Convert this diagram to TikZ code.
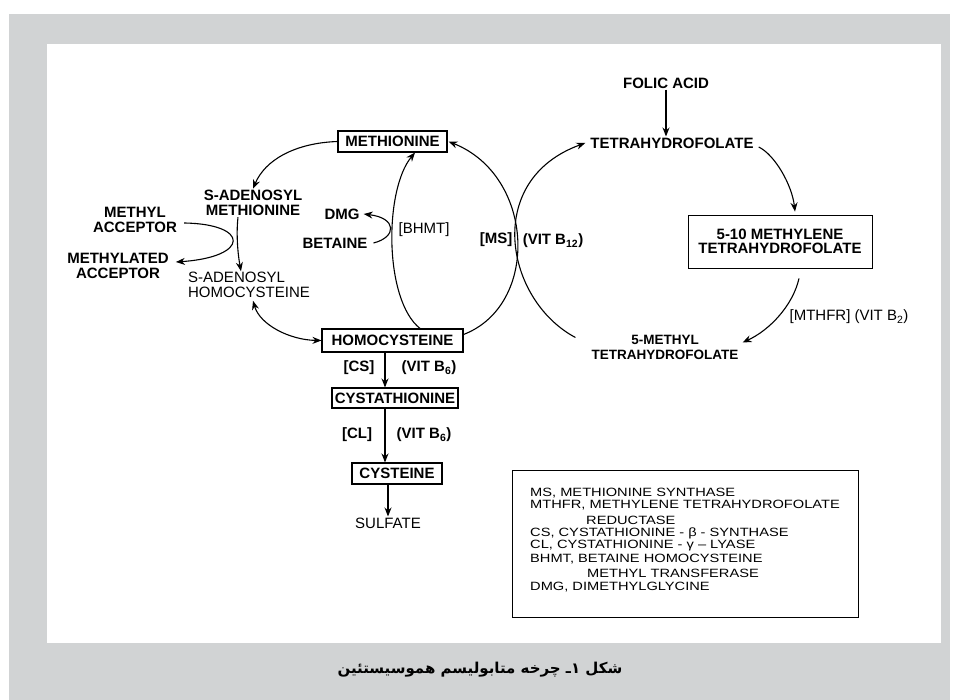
\documentclass[tikz,border=0pt]{standalone}
\usepackage{fontspec}
\setmainfont{Liberation Sans}
\newfontfamily\legfont[FakeStretch=1.22]{Liberation Sans}
\newfontfamily\arabicfont[Script=Arabic]{DejaVu Sans}
\TeXXeTstate=1
\usetikzlibrary{arrows.meta,calc}
\definecolor{panelgray}{RGB}{209,211,212}
\begin{document}
\begin{tikzpicture}[x=1pt,y=-1pt,
  lbl/.style={font=\bfseries\fontsize{15}{14.5}\selectfont, inner sep=1pt, align=center},
  rlbl/.style={font=\fontsize{15}{14.5}\selectfont, inner sep=1pt, align=center},
  cbox/.style={lbl, draw, line width=1.1pt, inner sep=0pt},
  arr/.style={line width=1.1pt, -{Stealth[length=9pt,width=7pt]}},
  darr/.style={line width=1.1pt, {Stealth[length=9pt,width=7pt]}-{Stealth[length=9pt,width=7pt]}},
  leg/.style={font=\legfont\fontsize{12}{12}\selectfont, anchor=west, inner sep=0pt}]
\useasboundingbox (0,0) rectangle (958,700);
\fill[white] (0,0) rectangle (958,700);
\fill[panelgray] (9,14) rectangle (950,700);
\fill[white] (47,44) rectangle (941,643);

% boxes
\node[cbox, minimum width=109pt, minimum height=21pt] (meth) at (392.5,141.5) {METHIONINE};
\node[cbox, minimum width=141pt, minimum height=23pt] (hcy) at (392.5,340.5) {HOMOCYSTEINE};
\node[cbox, minimum width=126pt, minimum height=20pt] (cysta) at (395,398) {CYSTATHIONINE};
\node[cbox, minimum width=90pt, minimum height=21pt] (cys) at (397,473.5) {CYSTEINE};
\node[rlbl] (sulf) at (388,523) {SULFATE};

% left labels
\node[lbl, font=\bfseries\fontsize{15}{15.5}\selectfont] (sam) at (253,203) {S-ADENOSYL\\METHIONINE};
\node[rlbl, align=left] (sah) at (249,285) {S-ADENOSYL\\HOMOCYSTEINE};
\node[lbl] (macc) at (135,220) {METHYL\\ACCEPTOR};
\node[lbl] (mdacc) at (118,266) {METHYLATED\\ACCEPTOR};
\node[lbl] (dmg) at (342,214) {DMG};
\node[lbl] (bet) at (335,243) {BETAINE};
\node[rlbl] (bhmt) at (424,230) {[BHMT]};
\node[lbl] (ms) at (496,240) {[MS]};
\node[lbl] (b12) at (553,241) {(VIT B\textsubscript{12})};

% folate cycle
\node[lbl] (folic) at (666,83) {FOLIC ACID};
\node[lbl] (thf) at (672,143) {TETRAHYDROFOLATE};
\node[lbl, draw, line width=0.8pt, minimum width=184pt, minimum height=53pt, inner sep=0pt] (mlthf) at (780,241.5) {5-10 METHYLENE\\TETRAHYDROFOLATE};
\node[rlbl] (mthfr) at (849,317) {[MTHFR] (VIT B\textsubscript{2})};
\node[lbl, font=\bfseries\fontsize{13.5}{15}\selectfont] (mthf) at (665,347.5) {5-METHYL\\TETRAHYDROFOLATE};

% transsulfuration labels
\node[lbl] (cs) at (359,368) {[CS]};
\node[lbl] (b6a) at (429,368) {(VIT B\textsubscript{6})};
\node[lbl] (cl) at (357,435) {[CL]};
\node[lbl] (b6b) at (424,435) {(VIT B\textsubscript{6})};

% connectors
\draw[arr] (meth.west) .. controls (295,143) and (265,160) .. (sam.north);
\draw[arr] ($(sam.south)+(-15,0)$) .. controls (236,235) and (238,255) .. ($(sah.north)+(-8,0)$);
\draw[arr] ($(macc.east)+(6,3)$) .. controls (250,224) and (250,257) .. ($(mdacc.east)+(6,-4)$);
\draw[darr] ($(sah.south)+(4,2)$) .. controls (260,325) and (290,340) .. (hcy.west);
\draw[arr] ($(hcy.north)+(27.5,0)$) .. controls (384,300) and (384,190) .. ($(meth.south)+(22.5,0)$);
\draw[arr] ($(bet.east)+(5,0)$) .. controls (397,237) and (397,218) .. ($(dmg.east)+(3,0)$);
\draw[arr] ($(hcy.east)+(0,-6)$) .. controls (540,305) and (535,176) .. ($(meth.east)+(1,0)$);
\draw[arr] ($(mthf.west)+(-15,-10)$) .. controls (505,300) and (483,180) .. ($(thf.west)+(-4,0)$);
\draw[arr] (folic.south) -- (folic.south |- thf.north);
\draw[arr] ($(thf.east)+(4,4)$) .. controls (775,155) and (792,185) .. ($(mlthf.north)+(15,-3)$);
\draw[arr] ($(mlthf.south)+(19,10)$) .. controls (793,305) and (770,330) .. ($(mthf.east)+(3,-5)$);
\draw[arr] ($(hcy.south)+(-7.5,0)$) -- ($(cysta.north)+(-10,0)$);
\draw[arr] ($(cysta.south)+(-10,0)$) -- ($(cys.north)+(-12,0)$);
\draw[arr] ($(cys.south)+(-9,0)$) -- (sulf.north);

% legend
\node[draw, line width=1pt, minimum width=346pt, minimum height=147pt, inner sep=0pt] (legbox) at (685,543.5) {};
\node[leg] (l1) at (530,493) {MS, METHIONINE SYNTHASE};
\node[leg] (l2) at (530,505) {MTHFR, METHYLENE TETRAHYDROFOLATE};
\node[leg] (l3) at (586,520) {REDUCTASE};
\node[leg] (l4) at (530,533) {CS, CYSTATHIONINE - β - SYNTHASE};
\node[leg] (l5) at (530,546) {CL, CYSTATHIONINE - γ – LYASE};
\node[leg] (l6) at (530,559.5) {BHMT, BETAINE HOMOCYSTEINE};
\node[leg] (l7) at (587,573) {METHYL TRANSFERASE};
\node[leg] (l8) at (530,587) {DMG, DIMETHYLGLYCINE};

% caption
\node[font=\arabicfont\bfseries\fontsize{15}{18}\selectfont, inner sep=0pt] (cap) at (480,670) {\beginR شکل ۱ـ چرخه متابولیسم هموسیستئین\endR};
\end{tikzpicture}
\end{document}
